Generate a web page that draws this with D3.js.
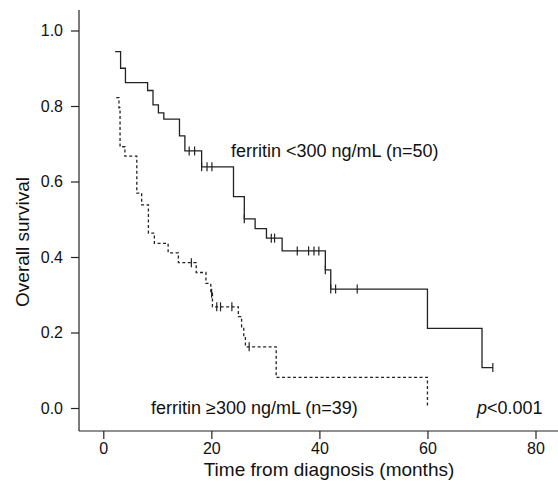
<!DOCTYPE html>
<html>
<head>
<meta charset="utf-8">
<script src="https://cdn.jsdelivr.net/npm/d3@7"></script>
<style>
  body { margin: 0; background: #fff; }
  svg { display: block; font-family: "Liberation Sans", Arial, sans-serif; }
</style>
</head>
<body>
<svg id="chart" width="558" height="491"></svg>
<script>
// ferritin <300 ng/mL (n=50): step times and survival after each step
const lowTimes = [2.2, 3.2, 4.1, 8.2, 9.2, 10.2, 11.2, 14.1, 15.1, 18.2, 24.1, 26.1, 28.1, 30.2, 33.1, 41.1, 42.1, 60.0, 70.1];
const lowSurv  = [0.944, 0.900, 0.862, 0.841, 0.803, 0.782, 0.765, 0.721, 0.681, 0.639, 0.560, 0.501, 0.475, 0.450, 0.416, 0.366, 0.315, 0.211, 0.107];
const lowEnd = 72.1;
const lowCensor = [15.9, 16.9, 18.2, 19.2, 20.1, 26.1, 31.1, 31.7, 35.9, 38.0, 39.0, 39.9, 41.1, 42.1, 43.0, 47.0, 72.1];

// ferritin >=300 ng/mL (n=39)
const highTimes = [2.4, 2.9, 3.1, 4.0, 6.2, 7.1, 8.35, 9.45, 12.0, 13.9, 17.2, 19.0, 19.9, 20.2, 25.0, 25.6, 26.0, 26.3, 32.0, 60.0];
const highSurv  = [0.822, 0.795, 0.692, 0.667, 0.569, 0.538, 0.463, 0.436, 0.411, 0.385, 0.359, 0.330, 0.304, 0.268, 0.242, 0.215, 0.188, 0.162, 0.081, 0.0];
const highEnd = 60.0;
const highCensor = [16.3, 20.05, 21.0, 21.7, 23.8, 27.0];

const xTicks = [0, 20, 40, 60, 80];
const yTicks = [0, 0.2, 0.4, 0.6, 0.8, 1.0];

const svg = d3.select("#chart");
const axisX = 79, axisY = 431;

const x = d3.scaleLinear().domain([0, 80]).range([103.3, 535.5]);
const y = d3.scaleLinear().domain([0, 1]).range([408, 30.5]);

// axis lines
svg.append("line").attr("x1", axisX).attr("x2", axisX).attr("y1", 10).attr("y2", axisY)
  .attr("stroke", "#222").attr("stroke-width", 1.2);
svg.append("line").attr("x1", axisX).attr("x2", 558).attr("y1", axisY).attr("y2", axisY)
  .attr("stroke", "#222").attr("stroke-width", 1.2);

const gx = svg.append("g").attr("transform", `translate(0,${axisY})`)
  .call(d3.axisBottom(x).tickValues(xTicks).tickSize(8).tickPadding(4).tickFormat(d3.format("d")));
const gy = svg.append("g").attr("transform", `translate(${axisX},0)`)
  .call(d3.axisLeft(y).tickValues(yTicks).tickSize(8).tickPadding(8).tickFormat(d3.format(".1f")));
[gx, gy].forEach(g => {
  g.select(".domain").remove();
  g.selectAll("line").attr("stroke", "#222").attr("stroke-width", 1.2);
  g.selectAll("text").attr("font-size", 16).attr("fill", "#111")
    .attr("font-family", "Liberation Sans, Arial, sans-serif");
});

// axis titles
svg.append("text").attr("x", 329).attr("y", 476).attr("text-anchor", "middle")
  .attr("font-size", 19).attr("fill", "#111").text("Time from diagnosis (months)");
svg.append("text").attr("transform", "translate(29,242) rotate(-90)").attr("text-anchor", "middle")
  .attr("font-size", 19).attr("fill", "#111").text("Overall survival");

// KM step path
function stepPoints(times, surv, end) {
  const pts = [];
  times.forEach((t, i) => {
    if (i > 0) pts.push([t, surv[i - 1]]);
    pts.push([t, surv[i]]);
  });
  pts.push([end, surv[surv.length - 1]]);
  return pts;
}
function survAt(times, surv, t) {
  let s = surv[0];
  times.forEach((tt, i) => { if (tt <= t) s = surv[i]; });
  return s;
}

const line = d3.line().x(d => x(d[0])).y(d => y(d[1]));

svg.append("path").datum(stepPoints(lowTimes, lowSurv, lowEnd))
  .attr("d", line).attr("fill", "none").attr("stroke", "#222").attr("stroke-width", 1.3);
svg.append("path").datum(stepPoints(highTimes, highSurv, highEnd))
  .attr("d", line).attr("fill", "none").attr("stroke", "#222").attr("stroke-width", 1.3)
  .attr("stroke-dasharray", "3,2.5");

// censor marks
function censor(times, surv, marks) {
  svg.append("g").selectAll("line").data(marks).join("line")
    .attr("x1", d => x(d)).attr("x2", d => x(d))
    .attr("y1", d => y(survAt(times, surv, d)) - 4.5)
    .attr("y2", d => y(survAt(times, surv, d)) + 4.5)
    .attr("stroke", "#222").attr("stroke-width", 1.2);
}
censor(lowTimes, lowSurv, lowCensor);
censor(highTimes, highSurv, highCensor);

// annotations
svg.append("text").attr("x", 231).attr("y", 157).attr("font-size", 18).attr("fill", "#111")
  .text("ferritin <300 ng/mL (n=50)");
svg.append("text").attr("x", 151).attr("y", 414).attr("font-size", 18).attr("fill", "#111")
  .text("ferritin \u2265300 ng/mL (n=39)");
const p = svg.append("text").attr("x", 477).attr("y", 414).attr("font-size", 18).attr("fill", "#111");
p.append("tspan").attr("font-style", "italic").text("p");
p.append("tspan").text("<0.001");
</script>
</body>
</html>
